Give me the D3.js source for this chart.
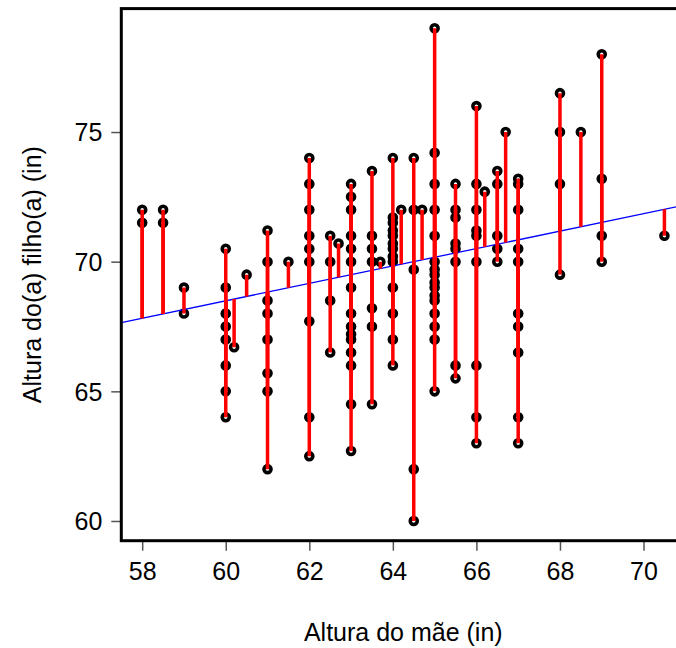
<!DOCTYPE html>
<html>
<head>
<meta charset="utf-8">
<script src="https://cdn.jsdelivr.net/npm/d3@7"></script>
<style>
  body { margin: 0; background: #fff; }
  svg { display: block; font-family: "Liberation Sans", Arial, sans-serif; }
</style>
</head>
<body>
<svg id="chart" width="676" height="648"></svg>
<script>
// altura da mae (eixo x), uma coluna de pontos por valor
const motherHeights = [58, 58.5, 59, 60, 60.2, 60.5, 61, 61.5, 62, 62.5, 62.7, 63, 63.5, 63.7,
  64, 64.2, 64.5, 64.7, 65, 65.5, 66, 66.2, 66.5, 66.7, 67, 68, 68.5, 69, 70.5];

// altura do(a) filho(a) para cada coluna acima
const childHeights = [
  [72, 71.5],
  [72, 71.5],
  [69, 68],
  [70.5, 69, 68, 67.5, 67, 66, 65, 64],
  [66.7],
  [69.5],
  [71.2, 70, 68.5, 68, 67, 65.7, 65, 62],
  [70],
  [74, 73, 72, 71, 70.5, 70, 67.7, 64, 62.5],
  [71, 70, 68.5, 66.5],
  [70.7],
  [73, 72.5, 72, 71, 70.5, 70, 69, 68, 67.5, 67.2, 67, 66.5, 66, 64.5, 62.7],
  [73.5, 71, 70.5, 70, 68.2, 67.5, 64.5],
  [70],
  [74, 71.7, 71.5, 71.2, 71, 70.7, 70.5, 70.2, 70, 69, 68, 67, 66],
  [72],
  [74, 72, 69.7, 62, 60],
  [72],
  [79, 74.2, 73, 72, 71, 70, 69.7, 69.5, 69.2, 69, 68.7, 68.5, 68, 67.5, 67, 65],
  [73, 72, 71.7, 70.7, 70.5, 70, 66, 65.5],
  [76, 73, 72, 71.2, 71, 70, 66, 64, 63],
  [72.7],
  [73.5, 73, 71, 70.5, 70],
  [75],
  [73.2, 73, 72, 70.5, 70, 68, 67.5, 66.5, 64, 63],
  [76.5, 75, 73, 69.5],
  [75],
  [78, 73.2, 71, 70],
  [71]
];

// reta de regressao
const intercept = 48.33;
const slope = 0.336;

const xTicks = [58, 60, 62, 64, 66, 68, 70];
const yTicks = [60, 65, 70, 75];

const points = [];
motherHeights.forEach(function(m, i) {
  childHeights[i].forEach(function(c) { points.push({x: m, y: c}); });
});

const svg = d3.select("#chart");

const plot = {left: 121.3, right: 685.3, top: 8.6, bottom: 540.7};

const x = d3.scaleLinear().domain([57.5, 71]).range([plot.left, plot.right]);
const y = d3.scaleLinear().domain([59.24, 79.76]).range([plot.bottom, plot.top]);

svg.append("clipPath").attr("id", "clip")
  .append("rect")
  .attr("x", plot.left).attr("y", plot.top)
  .attr("width", plot.right - plot.left).attr("height", plot.bottom - plot.top);

// eixos
const xAxis = svg.append("g")
  .attr("transform", "translate(0," + plot.bottom + ")")
  .call(d3.axisBottom(x).tickValues(xTicks).tickSize(10).tickPadding(11).tickFormat(d3.format("d")));
const yAxis = svg.append("g")
  .attr("transform", "translate(" + plot.left + ",0)")
  .call(d3.axisLeft(y).tickValues(yTicks).tickSize(10).tickPadding(9).tickFormat(d3.format("d")));

[xAxis, yAxis].forEach(function(a) {
  a.select(".domain").remove();
  a.selectAll(".tick line").attr("stroke", "#555").attr("stroke-width", 1.5);
  a.selectAll(".tick text").attr("fill", "#000").style("font-size", "25px")
    .style("font-family", "'Liberation Sans', Arial, sans-serif");
});
xAxis.selectAll(".tick text").attr("dy", "0.75em");
yAxis.selectAll(".tick text").attr("dy", "0.35em");

const g = svg.append("g").attr("clip-path", "url(#clip)");

g.selectAll("circle.pt")
  .data(points)
  .enter().append("circle")
  .attr("class", "pt")
  .attr("cx", function(d) { return x(d.x); })
  .attr("cy", function(d) { return y(d.y); })
  .attr("r", 3.5)
  .attr("fill", "none")
  .attr("stroke", "#000")
  .attr("stroke-width", 3.6);

const xd = x.domain();
g.append("line")
  .attr("x1", x(xd[0])).attr("y1", y(intercept + slope * xd[0]))
  .attr("x2", x(xd[1])).attr("y2", y(intercept + slope * xd[1]))
  .attr("stroke", "blue")
  .attr("stroke-width", 1.3);

g.selectAll("line.res")
  .data(points)
  .enter().append("line")
  .attr("class", "res")
  .attr("x1", function(d) { return x(d.x); })
  .attr("x2", function(d) { return x(d.x); })
  .attr("y1", function(d) { return y(d.y); })
  .attr("y2", function(d) { return y(intercept + slope * d.x); })
  .attr("stroke", "#ff0000")
  .attr("stroke-width", 3.5);

// caixa
svg.append("rect")
  .attr("x", plot.left).attr("y", plot.top)
  .attr("width", plot.right - plot.left).attr("height", plot.bottom - plot.top)
  .attr("fill", "none")
  .attr("stroke", "#000")
  .attr("stroke-width", 3);

svg.append("text")
  .attr("x", (plot.left + plot.right) / 2)
  .attr("y", 641)
  .attr("text-anchor", "middle")
  .style("font-size", "25px")
  .text("Altura do mãe (in)");

svg.append("text")
  .attr("transform", "translate(41," + (plot.top + plot.bottom) / 2 + ") rotate(-90)")
  .attr("text-anchor", "middle")
  .style("font-size", "25px")
  .text("Altura do(a) filho(a) (in)");
</script>
</body>
</html>
